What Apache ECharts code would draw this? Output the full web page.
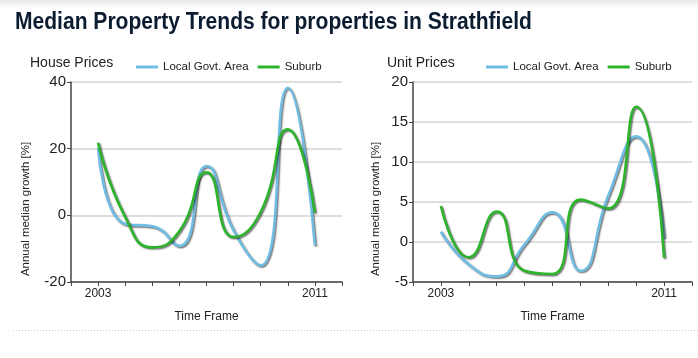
<!DOCTYPE html>
<html>
<head>
<meta charset="utf-8">
<script src="https://cdn.jsdelivr.net/npm/echarts@6/dist/echarts.min.js"></script>
<style>
html,body{margin:0;padding:0;background:#fff;}
#c{width:698px;height:358px;}
</style>
</head>
<body>
<div id="c"></div>
<script>
// ---- data ----
var years = [2003, 2004, 2005, 2006, 2007, 2008, 2009, 2010, 2011];
var xTickLabels = [2003, 2011];
var houseLocal  = [20.3, -2.6, -3.3, -9.2, 14.8, -4.5, -15.0, 38.2, -9.0];
var houseSuburb = [21.8, -0.5, -9.6, -4.7, 12.9, -6.5, 1.0, 25.8, 0.8];
var unitLocal   = [1.3, -2.8, -4.3, -0.3, 3.7, -3.6, 5.8, 13.2, 0.5];
var unitSuburb  = [4.5, -1.9, 3.8, -3.6, -4.0, 5.3, 4.2, 16.9, -2.0];
var houseYTicks = [-20, 0, 20, 40];
var unitYTicks  = [-5, 0, 5, 10, 15, 20];
var seriesNames = ['Local Govt. Area', 'Suburb'];
var chartTitle = 'Median Property Trends for properties in Strathfield';
var panelTitles = ['House Prices', 'Unit Prices'];
var xName = 'Time Frame';
var yName = 'Annual median growth [%]';

// ---- style ----
var BLUE = '#70bde4';
var GREEN = '#2cb52c';
var FONT = '"Liberation Sans", Arial, sans-serif';

function pairs(vals) { return years.map(function (y, i) { return [y, vals[i]]; }); }

function xAxisCfg(gi) {
  return {
    gridIndex: gi, type: 'value', min: 2002, max: 2012, interval: 1,
    name: xName, nameLocation: 'middle', nameGap: 29,
    nameTextStyle: { fontFamily: FONT, fontSize: 12, color: '#222' },
    axisLine: { show: true, onZero: false, lineStyle: { color: '#444', width: 1.5 } },
    axisTick: { show: true, length: 4, lineStyle: { color: '#444', width: 1 } },
    axisLabel: {
      margin: 6, fontFamily: FONT, fontSize: 12, color: '#222',
      showMinLabel: true, showMaxLabel: true,
      formatter: function (v) { return xTickLabels.indexOf(v) >= 0 ? String(v) : ''; }
    },
    splitLine: { show: false }
  };
}
function yAxisCfg(gi, ticks) {
  return {
    gridIndex: gi, type: 'value', min: ticks[0], max: ticks[ticks.length - 1],
    interval: ticks[1] - ticks[0],
    axisLine: { show: true, onZero: false, lineStyle: { color: '#444', width: 1.5 } },
    axisTick: { show: true, length: 4, lineStyle: { color: '#444', width: 1 } },
    axisLabel: { margin: 5, fontFamily: FONT, fontSize: 15, color: '#222' },
    splitLine: { show: true, lineStyle: { color: '#d3d3d3', width: 1.5 } }
  };
}
function lineSeries(name, vals, gi, color) {
  return {
    name: name, type: 'line', xAxisIndex: gi, yAxisIndex: gi,
    data: pairs(vals), smooth: 0.55, symbol: 'none', showSymbol: false,
    clip: false,
    lineStyle: { color: color, width: 2.6, shadowColor: 'rgba(0,0,0,0.55)', shadowBlur: 1.5, shadowOffsetX: 1.2, shadowOffsetY: 1.2 },
    itemStyle: { color: color },
    emphasis: { disabled: true }
  };
}
function legendCfg(left) {
  return {
    left: left, top: 61, itemWidth: 22, itemHeight: 3, itemGap: 9,
    icon: 'rect', padding: 0,
    textStyle: { fontFamily: FONT, fontSize: 11.5, color: '#222' },
    data: seriesNames
  };
}

var chart = echarts.init(document.getElementById('c'), null, { renderer: 'canvas' });
chart.setOption({
  animation: false,
  backgroundColor: '#fff',
  graphic: [
    { type: 'rect', shape: { x: 0, y: 0, width: 698, height: 8 },
      style: { fill: new echarts.graphic.LinearGradient(0, 0, 0, 1, [{ offset: 0, color: '#e6e6e6' }, { offset: 1, color: '#ffffff' }]) } },
    { type: 'text', x: 15, y: 23, scaleX: 0.915, style: { text: chartTitle, fill: '#0c1c30', verticalAlign: 'middle', font: 'bold 23px "Liberation Sans Narrow", "Arial Narrow", "Liberation Sans", sans-serif' } },
    { type: 'text', x: 30, y: 63, style: { text: panelTitles[0], fill: '#222', font: '14px ' + FONT, verticalAlign: 'middle' } },
    { type: 'text', x: 387, y: 63, style: { text: panelTitles[1], fill: '#222', font: '14px ' + FONT, verticalAlign: 'middle' } },
    { type: 'text', x: 26, y: 209, rotation: Math.PI / 2, style: { text: yName, fill: '#222', font: '11.5px ' + FONT, align: 'center', verticalAlign: 'middle' } },
    { type: 'text', x: 376, y: 209, rotation: Math.PI / 2, style: { text: yName, fill: '#222', font: '11.5px ' + FONT, align: 'center', verticalAlign: 'middle' } },
    { type: 'line', shape: { x1: 13, y1: 330.5, x2: 698, y2: 330.5 }, style: { stroke: '#c8c8c8', lineWidth: 1, lineDash: [1, 2] } }
  ],
  legend: [legendCfg(136), legendCfg(486)],
  grid: [
    { left: 71, top: 82, width: 271, height: 200 },
    { left: 413, top: 82, width: 279, height: 200 }
  ],
  xAxis: [xAxisCfg(0), xAxisCfg(1)],
  yAxis: [yAxisCfg(0, houseYTicks), yAxisCfg(1, unitYTicks)],
  series: [
    lineSeries(seriesNames[0], houseLocal, 0, BLUE),
    lineSeries(seriesNames[1], houseSuburb, 0, GREEN),
    lineSeries(seriesNames[0], unitLocal, 1, BLUE),
    lineSeries(seriesNames[1], unitSuburb, 1, GREEN)
  ]
});
</script>
</body>
</html>
